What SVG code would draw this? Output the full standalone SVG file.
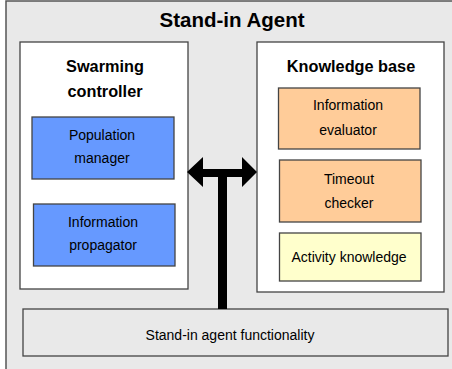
<svg xmlns="http://www.w3.org/2000/svg" width="452" height="369" viewBox="0 0 452 369">
<style>
text{font-family:"Liberation Sans",Arial,sans-serif;fill:#000;text-anchor:middle}
.t{font-size:20.5px;font-weight:bold}
.h{font-size:16.3px;font-weight:bold}
.l{font-size:14px}
.box{stroke:#444;stroke-width:1.3}
</style>
<rect x="6" y="1" width="460" height="380" fill="#e9e9e9" stroke="#555" stroke-width="1.5"/>
<text class="t" x="232" y="27">Stand-in Agent</text>
<g id="swarming-controller">
<rect class="box" x="20" y="42" width="168" height="247" fill="#fff"/>
<text class="h" x="105" y="72">Swarming</text>
<text class="h" x="105" y="97">controller</text>
</g>
<g id="population-manager">
<rect class="box" x="32" y="117" width="142" height="62" fill="#6699ff"/>
<text class="l" x="102" y="140">Population</text>
<text class="l" x="102" y="163">manager</text>
</g>
<g id="information-propagator">
<rect class="box" x="33.5" y="204" width="141.5" height="62" fill="#6699ff"/>
<text class="l" x="103" y="227">Information</text>
<text class="l" x="103" y="250">propagator</text>
</g>
<g id="knowledge-base">
<rect class="box" x="257" y="42" width="187" height="250" fill="#fff"/>
<text class="h" x="351" y="72">Knowledge base</text>
</g>
<g id="information-evaluator">
<rect class="box" x="278.5" y="88" width="141.5" height="61" fill="#ffcc99"/>
<text class="l" x="348" y="110">Information</text>
<text class="l" x="348" y="135">evaluator</text>
</g>
<g id="timeout-checker">
<rect class="box" x="279.5" y="160" width="141.5" height="62" fill="#ffcc99"/>
<text class="l" x="349" y="184">Timeout</text>
<text class="l" x="349" y="208">checker</text>
</g>
<g id="activity-knowledge">
<rect class="box" x="279.5" y="233" width="141.5" height="48" fill="#ffffcc"/>
<text class="l" x="349" y="262">Activity knowledge</text>
</g>
<g id="stand-in-agent-functionality">
<rect class="box" x="23" y="309" width="425" height="47" fill="#e9e9e9"/>
<text class="l" x="230" y="340">Stand-in agent functionality</text>
</g>
<g id="connectors" fill="#000">
<rect x="218" y="169" width="9" height="140"/>
<path d="M187,172 L203,157 L203,169 L242,169 L242,157 L257,172 L242,187 L242,177 L203,177 L203,187 Z"/>
</g>
</svg>
